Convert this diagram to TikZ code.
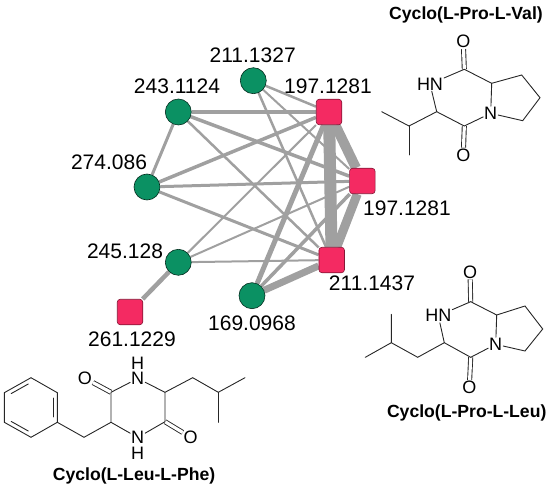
\documentclass[tikz,border=0pt]{standalone}
\usepackage{fontspec}
\setmainfont{Liberation Sans}
\usetikzlibrary{backgrounds, calc}
\definecolor{edgegray}{HTML}{A0A0A0}
\definecolor{nodegreen}{HTML}{0B9163}
\definecolor{noderose}{HTML}{F42A62}

\begin{document}
\begin{tikzpicture}[
    x=1pt, y=-1pt,
    % Styles
    metab/.style={circle, draw=black!70!nodegreen, fill=nodegreen, line width=0.6pt, minimum size=26pt, inner sep=0pt},
    frag/.style={rectangle, draw=black!45!noderose, fill=noderose, rounded corners=3pt, line width=0.6pt, minimum size=25.5pt, inner sep=0pt},
    link/.style={draw=edgegray},
    mass/.style={font=\fontsize{21}{21}\selectfont, inner sep=0pt},
    title/.style={font=\fontsize{17.6}{18}\selectfont\bfseries, inner sep=0pt},
    atom/.style={font=\fontsize{18}{18}\selectfont, inner sep=0.8pt},
    bond/.style={draw=black!85, line width=0.9pt, line cap=round},
    dbond/.style={draw=black!85, line width=0.9pt, double, double distance=3.2pt}
]
\useasboundingbox (0,0) rectangle (550,487);

% 1. NETWORK NODES
\node[metab] (m1327) at (253.3,80.7) {};
\node[metab] (m1124) at (178.3,112) {};
\node[metab] (m086) at (147,187) {};
\node[metab] (m128) at (178.3,262.3) {};
\node[metab] (m0968) at (252,295.7) {};
\node[frag] (f1281a) at (329,112) {};
\node[frag] (f1281b) at (362.3,181) {};
\node[frag] (f1437) at (331.7,260) {};
\node[frag] (f1229) at (130,312) {};

% 2. NETWORK LABELS
\node[mass] (l1327) at (252.7,55) {211.1327};
\node[mass] (l1124) at (177,86) {243.1124};
\node[mass] (l086) at (109,162) {274.086};
\node[mass] (l128) at (125,251) {245.128};
\node[mass] (l1229) at (132,339) {261.1229};
\node[mass] (l0968) at (252,323) {169.0968};
\node[mass] (l1281a) at (328,86) {197.1281};
\node[mass] (l1281b) at (407,208) {197.1281};
\node[mass] (l1437) at (372,283) {211.1437};

% 3. NETWORK EDGES
\begin{scope}[on background layer]
\foreach \a/\b/\w in {m1124/f1281a/3.5, m1124/f1281b/3.5, m1124/f1437/2.5, m1124/m086/3,
    m086/f1281a/3.5, m086/f1281b/3, m086/f1437/3,
    m128/f1281a/2, m128/f1281b/2, m128/f1437/2, m128/f1229/4.5,
    m1327/f1281a/2.5, m1327/f1281b/2, m1327/f1437/2.5,
    m0968/f1281a/5, m0968/f1281b/3.5, m0968/f1437/7,
    f1281a/f1281b/10, f1281a/f1437/12, f1281b/f1437/9}
    \draw[link, line width=\w pt] (\a) -- (\b);
\end{scope}

% 4. CYCLO(L-PRO-L-VAL)
\node[title] (tval) at (466,14.5) {Cyclo(L-Pro-L-Val)};
\node[atom] (vo1) at (463.3,41.7) {O};
\node[atom] (vo2) at (463.3,155) {O};
\node[atom] (vnh) at (430,84) {HN};
\node[atom] (vn) at (490.7,113.3) {N};
\coordinate (vc1) at (464.3,69.3);
\coordinate (vc2) at (491.7,83.3);
\coordinate (vc3) at (464.3,126);
\coordinate (vc4) at (436.7,111.7);
\coordinate (vc5) at (409,126);
\coordinate (vc6) at (381.7,111.7);
\coordinate (vc7) at (409,155);
\coordinate (vc8) at (521.7,75);
\coordinate (vc9) at (540,97.7);
\coordinate (vc10) at (522.7,120.7);
\draw[dbond] (vc1) -- (vo1);
\draw[dbond] (vc3) -- (vo2);
\draw[bond] (vnh) -- (vc1) -- (vc2) -- (vn) -- (vc3) -- (vc4) -- (vnh);
\draw[bond] (vc4) -- (vc5) -- (vc6);
\draw[bond] (vc5) -- (vc7);
\draw[bond] (vc2) -- (vc8) -- (vc9) -- (vc10) -- (vn);

% 5. CYCLO(L-PRO-L-LEU)
\node[title] (tleu) at (466.7,412.7) {Cyclo(L-Pro-L-Leu)};
\node[atom] (lo1) at (470,272) {O};
\node[atom] (lo2) at (469.3,387.3) {O};
\node[atom] (lnh) at (438.3,315.7) {HN};
\node[atom] (ln) at (495.7,344.3) {N};
\coordinate (lc1) at (470.7,301.7);
\coordinate (lc2) at (496.7,315);
\coordinate (lc3) at (470.7,357.3);
\coordinate (lc4) at (444.3,342.7);
\coordinate (lc5) at (417.7,357.3);
\coordinate (lc6) at (391.3,342.7);
\coordinate (lc7) at (391.3,314.3);
\coordinate (lc8) at (365.3,357.3);
\coordinate (lc9) at (525,306);
\coordinate (lc10) at (542.7,329);
\coordinate (lc11) at (525,351);
\draw[dbond] (lc1) -- (lo1);
\draw[dbond] (lc3) -- (lo2);
\draw[bond] (lnh) -- (lc1) -- (lc2) -- (ln) -- (lc3) -- (lc4) -- (lnh);
\draw[bond] (lc4) -- (lc5) -- (lc6) -- (lc7);
\draw[bond] (lc6) -- (lc8);
\draw[bond] (lc2) -- (lc9) -- (lc10) -- (lc11) -- (ln);

% 6. CYCLO(L-LEU-L-PHE)
\node[title] (tphe) at (134,475.7) {Cyclo(L-Leu-L-Phe)};
\node[atom] (pn1) at (137.7,378.5) {N};
\node[atom] (ph1) at (137.7,363) {H};
\node[atom] (pn2) at (137.7,437.5) {N};
\node[atom] (ph2) at (137.7,453) {H};
\node[atom] (po1) at (85,378.3) {O};
\node[atom] (po2) at (190.7,437.3) {O};
\coordinate (pc1) at (111,392.3);
\coordinate (pc2) at (111,422.3);
\coordinate (pc3) at (165,421.7);
\coordinate (pc4) at (165,392.3);
\coordinate (pc5) at (84,437.3);
\coordinate (pc6) at (192.7,377.7);
\coordinate (pc7) at (218.3,392.3);
\coordinate (pc8) at (245,377.7);
\coordinate (pc9) at (218.3,422.3);
\coordinate (bz1) at (31,377.7);
\coordinate (bz2) at (57.3,392.7);
\coordinate (bz3) at (57.3,422.3);
\coordinate (bz4) at (31,437.3);
\coordinate (bz5) at (4.3,422.3);
\coordinate (bz6) at (4.3,392.7);
\coordinate (bzc) at (30.8,407.5);
\draw[dbond] (pc1) -- (po1);
\draw[dbond] (pc3) -- (po2);
\draw[bond] (pn1) -- (pc1) -- (pc2) -- (pn2) -- (pc3) -- (pc4) -- (pn1);
\draw[bond] (pc4) -- (pc6) -- (pc7) -- (pc8);
\draw[bond] (pc7) -- (pc9);
\draw[bond] (pc2) -- (pc5) -- (bz3);
\draw[bond] (bz1) -- (bz2) -- (bz3) -- (bz4) -- (bz5) -- (bz6) -- cycle;
\foreach \a/\b in {bz6/bz1, bz2/bz3, bz4/bz5}
    \draw[bond, shorten <=3pt, shorten >=3pt] ($(bzc)!0.84!(\a)$) -- ($(bzc)!0.84!(\b)$);

\end{tikzpicture}
\end{document}
